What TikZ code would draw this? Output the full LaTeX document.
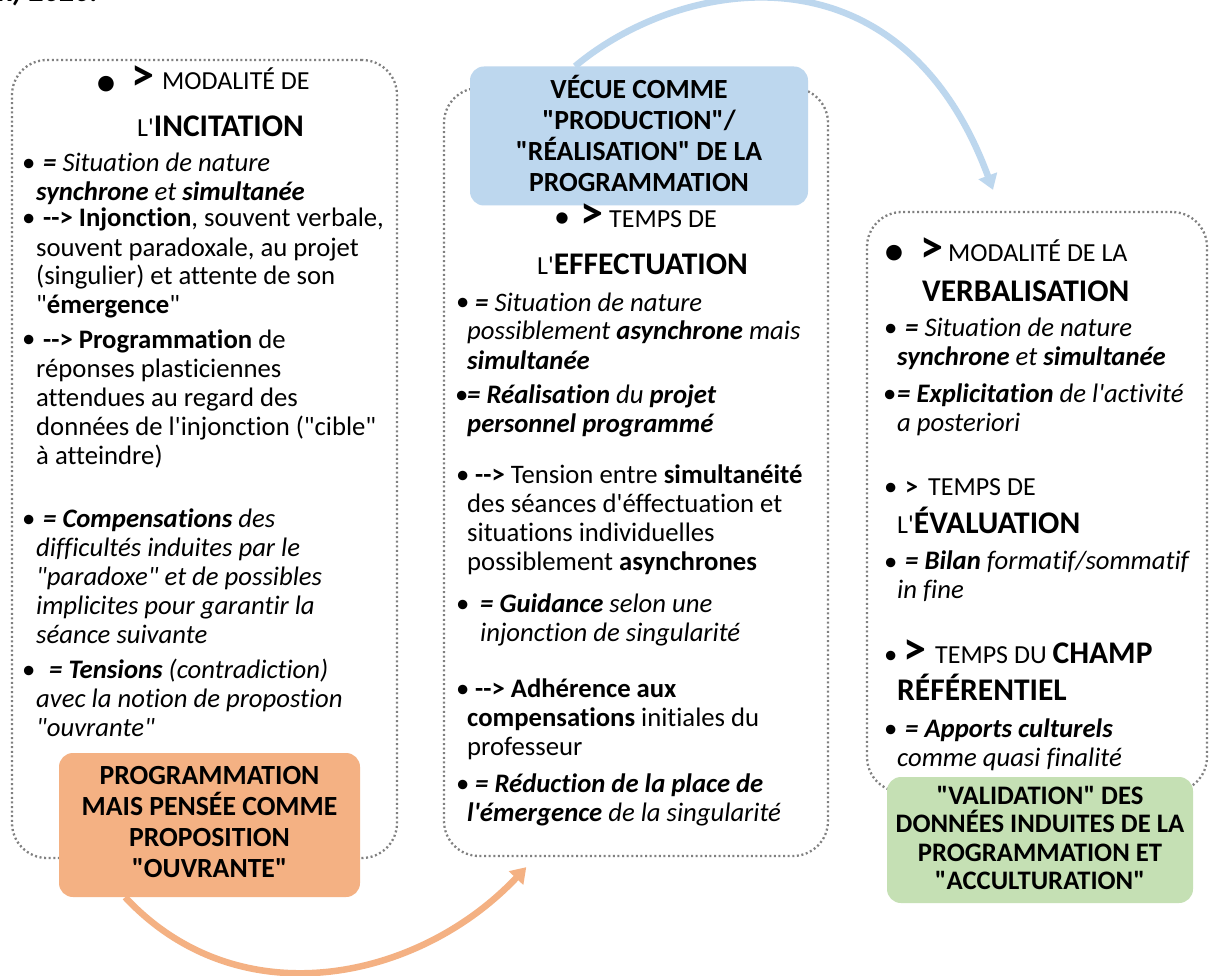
\documentclass[tikz,border=0pt]{standalone}
\usepackage{fontspec}
\setmainfont{Carlito}[Ligatures={TeXOff,NoCommon}]
\usetikzlibrary{arrows.meta,calc}
\definecolor{fg}{HTML}{808080}
\definecolor{orng}{HTML}{F4B183}
\definecolor{blu}{HTML}{BDD7EE}
\definecolor{grn}{HTML}{C5E0B4}
\newcommand{\bodyf}{\fontsize{26.7}{29}\selectfont}
\newcommand{\hdf}{\fontsize{26}{29}\selectfont}
\newcommand{\hbig}{\fontsize{31.5}{34}\selectfont\bfseries}
\tikzset{
  frame/.style={draw=fg, line width=2.3pt, dash pattern=on 2pt off 2.6pt, rounded corners=35pt, inner sep=0pt},
  para/.style={anchor=base west, align=left, inner sep=0pt, font=\bodyf},
  bul/.style={anchor=base west, inner sep=0pt, font=\bodyf},
  hd/.style={anchor=base west, inner sep=0pt, font=\hdf},
  bigbul/.style={anchor=base west, inner sep=0pt, font=\fontsize{44}{44}\selectfont},
  gtbig/.style={anchor=base west, inner sep=0pt, font=\fontsize{46}{46}\selectfont\bfseries},
  cshape/.style={rounded corners=14pt, inner sep=0pt},
  ctext/.style={inner sep=0pt, align=center, font=\fontsize{27.7}{31}\selectfont\bfseries},
  arr/.style={line width=6.5pt, -{Triangle[length=15pt,width=19pt]}}
}
\begin{document}
\begin{tikzpicture}[x=1pt,y=-1pt]
\path[fill=white, use as bounding box] (0,0) rectangle (1213,976);
\node[anchor=base east, inner sep=0pt, font=\fontsize{30}{30}\selectfont\bfseries\itshape] (cap) at (98,2) {ax) 2020.};
% frames
\node[frame, minimum width=385pt, minimum height=798pt] (lbox) at (204.5,459) {};
\node[frame, minimum width=384pt, minimum height=768pt] (mbox) at (636,472) {};
\node[frame, minimum width=340pt, minimum height=580pt] (rbox) at (1037,502) {};
% coordinates for the coloured boxes
\coordinate (oc) at (209.5,825);
\coordinate (bc) at (639,136);
% arrows (drawn first, the boxes cover their start)
\path (oc) node[cshape, minimum width=301pt, minimum height=144pt] (orange) {};
\path (bc) node[cshape, minimum width=338pt, minimum height=139pt] (blue) {};
\draw[arr, draw=orng] ($(orange.south west)!0.22!(orange.south east)$) .. controls (240,1020) and (420,980) .. ($(mbox.south west)!0.216!(mbox.south east)+(0,10)$);
\draw[arr, draw=blu] ($(blue.north west)!0.311!(blue.north east)$) .. controls (680,-22) and (900,-62) .. ($(rbox.north)+(-44,-21)$);
% coloured boxes
\node[cshape, fill=orng, minimum width=301pt, minimum height=144pt] (orangebox) at (oc) {};
\node[cshape, fill=blu, minimum width=338pt, minimum height=139pt] (bluebox) at (bc) {};
\node[cshape, fill=grn, minimum width=306pt, minimum height=126pt] (greenbox) at (1040,840) {};
\node[ctext] (orangetxt) at ($(orangebox.center)+(0,-3)$) {PROGRAMMATION\\MAIS PENSÉE COMME\\PROPOSITION\\"OUVRANTE"};
\node[ctext] (bluetxt) at ($(bluebox.center)+(0,-3)$) {VÉCUE COMME\\"PRODUCTION"/\\"RÉALISATION" DE LA\\PROGRAMMATION};
\node[ctext, font=\fontsize{26.7}{28.5}\selectfont\bfseries] (greentxt) at ($(greenbox.center)+(0,-2)$) {"VALIDATION" DES\\DONNÉES INDUITES DE LA\\PROGRAMMATION ET\\"ACCULTURATION"};
% left box (paragraph nodes anchored at the baseline of their last line)
\node[bigbul] (lhb) at (95,97) {•};
\node[gtbig] (lhg) at (131,91) {>};
\node[hd] (lh1) at (162,90) {MODALITÉ DE};
\node[hd] (lh2) at (137,137) {L'{\hbig INCITATION}};
\node[bul] (lb1) at (22,172) {•};
\node[para, font=\bodyf\itshape] (lp1) at (36,201) {\hspace*{7pt}\textbf{=} Situation de nature\\\textbf{synchrone} et \textbf{simultanée}};
\node[bul] (lb2) at (22,227) {•};
\node[para] (lp2) at (36,314) {\hspace*{7pt}\textbf{-->} \textbf{Injonction}, souvent verbale,\\souvent paradoxale, au projet\\(singulier) et attente de son\\"\textbf{émergence}"};
\node[bul] (lb3) at (22,348) {•};
\node[para] (lp3) at (36,464) {\hspace*{7pt}\textbf{--> Programmation} de\\réponses plasticiennes\\attendues au regard des\\données de l'injonction ("cible"\\à atteindre)};
\node[bul] (lb4) at (22,527) {•};
\node[para, font=\bodyf\itshape] (lp4) at (36,643) {\hspace*{7pt}\textbf{= Compensations} des\\difficultés induites par le\\"paradoxe" et de possibles\\implicites pour garantir la\\séance suivante};
\node[bul] (lb5) at (22,678) {•};
\node[para, font=\bodyf\itshape] (lp5) at (36,736) {\hspace*{13pt}\textbf{= Tensions} (contradiction)\\avec la notion de propostion\\"ouvrante"};
% middle box
\node[bul, font=\fontsize{32}{32}\selectfont] (mhb) at (554,228) {•};
\node[gtbig] (mhg) at (580,229) {>};
\node[hd] (mh1) at (609,228) {TEMPS DE};
\node[hd] (mh2) at (537,275) {L'{\hbig EFFECTUATION}};
\node[bul] (mb1) at (456,311) {•};
\node[para, font=\bodyf\itshape] (mp1) at (467,369) {\hspace*{8pt}\textbf{=} Situation de nature\\possiblement \textbf{asynchrone} mais\\\textbf{simultanée}};
\node[bul] (mb2) at (455,403) {•};
\node[para, font=\bodyf\itshape] (mp2) at (467,432) {\textbf{= Réalisation} du \textbf{projet}\\\textbf{personnel programmé}};
\node[bul] (mb3) at (456,483) {•};
\node[para] (mp3) at (467,570) {\hspace*{8pt}\textbf{-->} Tension entre \textbf{simultanéité}\\des séances d'éffectuation et\\situations individuelles\\possiblement \textbf{asynchrones}};
\node[bul] (mb4) at (456,612) {•};
\node[para, font=\bodyf\itshape] (mp4) at (480,641) {\textbf{= Guidance} selon une\\injonction de singularité};
\node[bul] (mb5) at (456,697) {•};
\node[para] (mp5) at (467,755) {\hspace*{8pt}\textbf{--> Adhérence aux}\\\textbf{compensations} initiales du\\professeur};
\node[bul] (mb6) at (456,792) {•};
\node[para, font=\bodyf\itshape] (mp6) at (467,821) {\hspace*{8pt}\textbf{= Réduction de la place de}\\\textbf{l'émergence} de la singularité};
% right box
\node[bigbul] (rhb) at (883,266) {•};
\node[gtbig] (rhg) at (920,263) {>};
\node[hd] (rh1) at (948,262) {MODALITÉ DE LA};
\node[hd, font=\hbig] (rh2) at (922,302) {VERBALISATION};
\node[bul] (rb1) at (884,337) {•};
\node[para, font=\bodyf\itshape] (rp1) at (897,366) {\hspace*{8pt}\textbf{=} Situation de nature\\\textbf{synchrone} et \textbf{simultanée}};
\node[bul] (rb2) at (883,402) {•};
\node[para, font=\bodyf\itshape] (rp2) at (897,431) {\textbf{= Explicitation} de l'activité\\a posteriori};
\node[bul] (rb3) at (884,495) {•};
\node[bul, font=\hdf\bfseries] (rh3g) at (905,495) {>};
\node[hd] (rh3) at (928,495) {TEMPS DE};
\node[hd] (rh4) at (897,533) {L'{\hbig ÉVALUATION}};
\node[bul] (rb4) at (884,570) {•};
\node[para, font=\bodyf\itshape] (rp3) at (897,598) {\hspace*{8pt}\textbf{= Bilan} formatif/sommatif\\in fine};
\node[bul] (rb5) at (884,663) {•};
\node[gtbig] (rh5g) at (903,664) {>};
\node[hd] (rh5) at (935,663) {TEMPS DU {\hbig CHAMP}};
\node[hd, font=\hbig] (rh6) at (897,700) {RÉFÉRENTIEL};
\node[bul] (rb6) at (884,737) {•};
\node[para, font=\bodyf\itshape] (rp4) at (897,766) {\hspace*{8pt}\textbf{= Apports culturels}\\comme quasi finalité};
\end{tikzpicture}
\end{document}
